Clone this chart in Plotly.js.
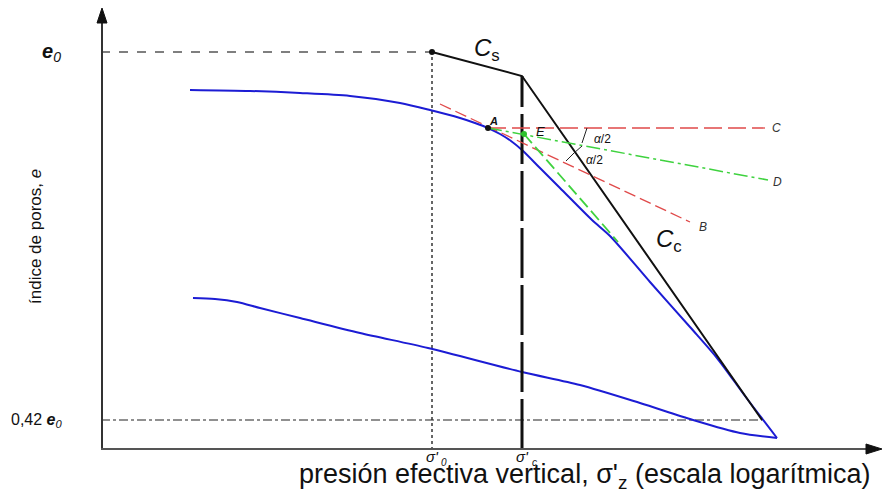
<!DOCTYPE html>
<html>
<head>
<meta charset="utf-8">
<script src="https://cdn.plot.ly/plotly-3.0.1.min.js"></script>
<style>html,body{margin:0;padding:0;background:#fff;}#chart{width:882px;height:492px;}</style>
</head>
<body>
<div id="chart"></div>
<script>
// Schematic coordinates: x = log sigma' (arbitrary units), y = void ratio e (arbitrary units)
const curveLabX = [89,149,199,249,299,329,359,374,387,399,410,421,439,459,491,509,549,589,616,644,676];
const curveLabY = [359,358,356,353,346,339,331,326,321,315,308,299,281,261,229,213,167,122,91,53,11];
const curveLowX = [92,114,136,159,199,259,327,421,479,539,592,639,676];
const curveLowY = [151,150,147,141,131,116,101,77,64,46,29,16,11];
const fieldX = [331,421,661];
const fieldY = [397,373,29];
const e0 = 397;
const e042 = 29;
const sigma0 = 331;
const sigmaC = 421;
const ptA = [387,321];
const ptE = [423,315];
const lineC_X = [387,664];
const tangentX = [339,589], tangentY = [345,227];
const bisectX = [387,667], bisectY = [321,269];
const greenX = [423,517], greenY = [315,207];
const arc1X = [486,483,481], arc1Y = [321,313,306];
const arc2X = [481,473,465], arc2Y = [303,296,288];

const F = "Liberation Sans, Arial, sans-serif";
const traces = [
  {x:[sigma0,sigma0], y:[-1,e0], mode:'lines', line:{color:'#666',width:2,dash:'dot'}},
  {x:[0,sigma0], y:[e0,e0], mode:'lines', line:{color:'#555',width:1.3,dash:'dash'}},
  {x:[0,fieldX[2]], y:[e042,e042], mode:'lines', line:{color:'#222',width:1.2,dash:'dashdot'}},
  {x:curveLabX, y:curveLabY, mode:'lines', line:{color:'#1c1cd4',width:2,shape:'spline',smoothing:0.8}},
  {x:curveLowX, y:curveLowY, mode:'lines', line:{color:'#1c1cd4',width:2,shape:'spline',smoothing:0.8}},
  {x:fieldX, y:fieldY, mode:'lines', line:{color:'#111',width:2}},
  {x:[sigmaC,sigmaC], y:[0,fieldY[1]], mode:'lines', line:{color:'#111',width:3,dash:'50px,7px'}},
  {x:lineC_X, y:[ptA[1],ptA[1]], mode:'lines', line:{color:'#e04a4a',width:1.3,dash:'18px,6px'}},
  {x:tangentX, y:tangentY, mode:'lines', line:{color:'#e04a4a',width:1.3,dash:'12px,5px'}},
  {x:bisectX, y:bisectY, mode:'lines', line:{color:'#3fd23f',width:1.5,dash:'14px,4px,3px,4px'}},
  {x:greenX, y:greenY, mode:'lines', line:{color:'#3fd23f',width:1.8,dash:'12px,5px'}},
  {x:arc1X, y:arc1Y, mode:'lines', line:{color:'#222',width:1}},
  {x:arc2X, y:arc2Y, mode:'lines', line:{color:'#222',width:1}},
  {x:[fieldX[0],ptA[0]], y:[fieldY[0],ptA[1]], mode:'markers', marker:{color:'#111',size:6}},
  {x:[ptE[0]], y:[ptE[1]], mode:'markers', marker:{color:'#2ec02e',size:6}}
];

const ann = (x,y,text,opt) => Object.assign({x:x,y:y,xref:'x',yref:'y',text:text,showarrow:false,font:{family:F,size:12,color:'#111'}},opt||{});
const annotations = [
  ann(371,400,'<i>C</i><sub>s</sub>',{xanchor:'left',font:{family:F,size:24,color:'#111'}}),
  ann(553,209,'<i>C</i><sub>c</sub>',{xanchor:'left',font:{family:F,size:24,color:'#111'}}),
  ann(392,328,'<b><i>A</i></b>',{xanchor:'center',font:{family:F,size:11,color:'#111'}}),
  ann(433,318,'<i>E</i>',{xanchor:'left',font:{family:F,size:13,color:'#111'}}),
  ann(669,321,'<i>C</i>',{xanchor:'left',font:{family:F,size:12,color:'#333'}}),
  ann(670,267,'<i>D</i>',{xanchor:'left',font:{family:F,size:12,color:'#333'}}),
  ann(596,222,'<i>B</i>',{xanchor:'left',font:{family:F,size:12,color:'#333'}}),
  ann(491,310,'<i>α</i>/2',{xanchor:'left',font:{family:F,size:12,color:'#111'}}),
  ann(483,289,'<i>α</i>/2',{xanchor:'left',font:{family:F,size:12,color:'#111'}}),
  ann(-38,e0,'<b><i>e</i></b><sub><i>0</i></sub>',{xanchor:'right',font:{family:F,size:20,color:'#111'}}),
  ann(-36,e042,'0,42 <b><i>e</i></b><sub><i>0</i></sub>',{xanchor:'right',font:{family:F,size:16,color:'#111'}}),
  ann(sigma0,-7,"<i>σ'</i>",{xanchor:'center',font:{family:F,size:15,color:'#111'}}),
  ann(sigma0+12,-13,"<i>0</i>",{xanchor:'center',font:{family:F,size:10,color:'#111'}}),
  ann(sigmaC,-7,"<i>σ'</i>",{xanchor:'center',font:{family:F,size:15,color:'#111'}}),
  ann(sigmaC+12,-13,"<i>c</i>",{xanchor:'center',font:{family:F,size:10,color:'#111'}}),
  ann(484,-27,"presión efectiva vertical, σ'<sub>z</sub> (escala logarítmica)",{xanchor:'center',font:{family:F,size:27,color:'#111'}}),
  ann(-66,212,'índice de poros, <i>e</i>',{textangle:-90,font:{family:F,size:17,color:'#111'}})
];

const shapes = [
  {type:'line',xref:'x',yref:'y',x0:1,y0:0,x1:1,y1:430,line:{color:'#333',width:2}},
  {type:'path',xref:'x',yref:'y',path:'M 1 441 L -4 426 L 6 426 Z',fillcolor:'#111',line:{color:'#111',width:1}},
  {type:'line',xref:'x',yref:'y',x0:0,y0:0,x1:770,y1:0,line:{color:'#555',width:2}},
  {type:'path',xref:'x',yref:'y',path:'M 781 0 L 765 5 L 765 -5 Z',fillcolor:'#111',line:{color:'#111',width:1}}
];

const layout = {
  width:882, height:492, margin:{l:0,r:0,t:0,b:0}, showlegend:false,
  paper_bgcolor:'#fff', plot_bgcolor:'#fff',
  xaxis:{range:[-101,781],showgrid:false,zeroline:false,showticklabels:false,showline:false,fixedrange:true},
  yaxis:{range:[-43,449],showgrid:false,zeroline:false,showticklabels:false,showline:false,fixedrange:true},
  annotations:annotations, shapes:shapes
};
traces.forEach(t=>{t.hoverinfo='skip';});
Plotly.newPlot('chart', traces, layout, {displayModeBar:false, staticPlot:true});
</script>
</body>
</html>
